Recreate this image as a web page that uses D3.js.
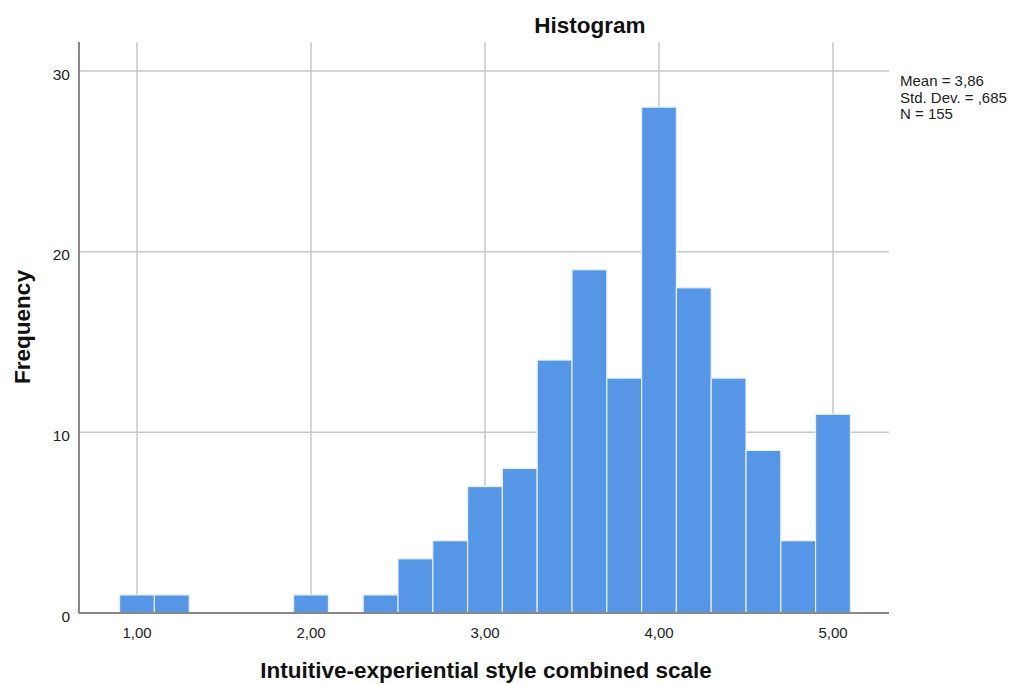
<!DOCTYPE html>
<html><head><meta charset="utf-8">
<script src="https://cdn.jsdelivr.net/npm/d3@7"></script>
<style>body{margin:0;background:#fff;font-family:"Liberation Sans",Arial,sans-serif}</style>
</head><body><svg id="c" width="1014" height="684"></svg>
<script>
const binStarts = [0.9,1.1,1.3,1.5,1.7,1.9,2.1,2.3,2.5,2.7,2.9,3.1,3.3,3.5,3.7,3.9,4.1,4.3,4.5,4.7,4.9];
const binWidth = 0.2;
const counts = [1,1,0,0,0,1,0,1,3,4,7,8,14,19,13,28,18,13,9,4,11];
const xTicks = [1,2,3,4,5];
const xTickLabels = ["1,00","2,00","3,00","4,00","5,00"];
const yTicks = [0,10,20,30];
const stats = ["Mean = 3,86","Std. Dev. = ,685","N = 155"];

const svg = d3.select("#c");
const x = d3.scaleLinear().domain([1,5]).range([137,833]);
const y = d3.scaleLinear().domain([0,30]).range([613,71]);
const L = 79, R = 889, T = 42, B = 613;

// grid
svg.append("g").selectAll("line").data(yTicks.filter(d=>d>0)).join("line")
  .attr("x1",L).attr("x2",R).attr("y1",d=>y(d)).attr("y2",d=>y(d))
  .attr("stroke","#c8c8c8").attr("stroke-width",1.5);
svg.append("g").selectAll("line").data(xTicks).join("line")
  .attr("x1",d=>x(d)).attr("x2",d=>x(d)).attr("y1",T).attr("y2",B)
  .attr("stroke","#c8c8c8").attr("stroke-width",1.5);

// bars
svg.append("g").selectAll("rect").data(counts.map((c,i)=>({s:binStarts[i],c})).filter(d=>d.c>0)).join("rect")
  .attr("x",d=>x(d.s)).attr("width",d=>x(d.s+binWidth)-x(d.s))
  .attr("y",d=>y(d.c)).attr("height",d=>y(0)-y(d.c))
  .attr("fill","#5596e6").attr("stroke","#e6efff").attr("stroke-width",1.2);

// axes
svg.append("line").attr("x1",L).attr("x2",L).attr("y1",T).attr("y2",B).attr("stroke","#888").attr("stroke-width",2);
svg.append("line").attr("x1",L).attr("x2",R).attr("y1",B).attr("y2",B).attr("stroke","#888").attr("stroke-width",2);

svg.append("g").selectAll("text").data(yTicks).join("text")
  .attr("x",70).attr("y",d=>y(d)+8.5).attr("text-anchor","end")
  .attr("font-size",15.5).attr("fill","#222").text(d=>d);
svg.append("g").selectAll("text").data(xTicks).join("text")
  .attr("x",d=>x(d)).attr("y",638).attr("text-anchor","middle")
  .attr("font-size",15).attr("fill","#222").text((d,i)=>xTickLabels[i]);

svg.append("text").attr("x",590).attr("y",33).attr("text-anchor","middle")
  .attr("font-size",22.5).attr("font-weight","bold").attr("fill","#111").text("Histogram");
svg.append("text").attr("x",486).attr("y",678).attr("text-anchor","middle")
  .attr("font-size",22.5).attr("font-weight","bold").attr("fill","#111").text("Intuitive-experiential style combined scale");
svg.append("text").attr("transform","translate(30,327) rotate(-90)").attr("text-anchor","middle")
  .attr("font-size",22.5).attr("font-weight","bold").attr("fill","#111").text("Frequency");

svg.append("g").selectAll("text").data(stats).join("text")
  .attr("x",900).attr("y",(d,i)=>86+i*16.5).attr("font-size",15).attr("fill","#222").text(d=>d);
</script></body></html>
